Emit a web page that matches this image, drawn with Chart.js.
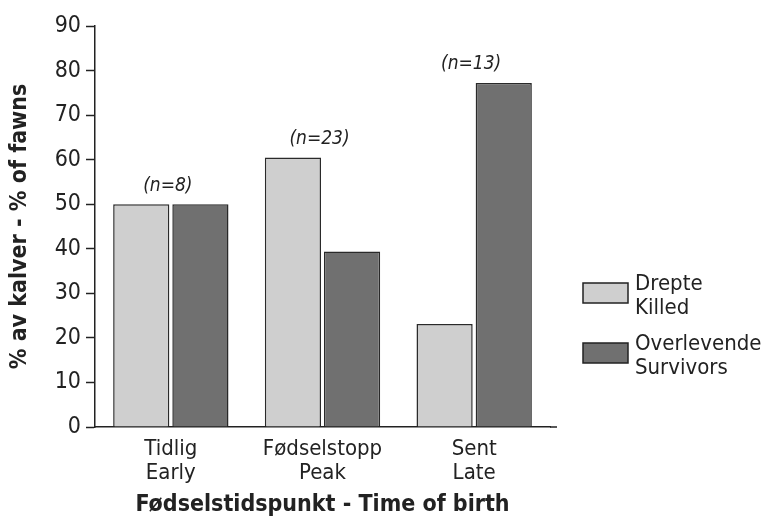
<!DOCTYPE html>
<html>
<head>
<meta charset="utf-8">
<script src="https://cdn.jsdelivr.net/npm/chart.js@4"></script>
<style>
  html, body { margin: 0; padding: 0; background: #fff; }
  #wrap { width: 768px; height: 527px; }
</style>
</head>
<body>
<div id="wrap"><canvas id="fawnChart" width="768" height="527"></canvas></div>
<script>
// Data
const categories = [['Tidlig', 'Early'], ['Fødselstopp', 'Peak'], ['Sent', 'Late']];
const sampleSizes = ['(n=8)', '(n=23)', '(n=13)'];
const killed = [50, 60.5, 23.1];
const survivors = [50, 39.4, 77.2];
const killedLabel = ['Drepte', 'Killed'];
const survivorsLabel = ['Overlevende', 'Survivors'];
const yTicks = [0, 10, 20, 30, 40, 50, 60, 70, 80, 90];

const FONT = "'DejaVu Sans Condensed', 'Open Sans', sans-serif";

// n-labels over each group
const sampleLabels = {
    id: 'sampleLabels',
    afterDatasetsDraw(chart) {
        const ctx = chart.ctx;
        const x = chart.scales.x, y = chart.scales.y;
        ctx.save();
        ctx.font = 'italic 19px ' + FONT;
        ctx.fillStyle = '#222';
        ctx.textAlign = 'center';
        ctx.textBaseline = 'bottom';
        sampleSizes.forEach((txt, i) => {
            const top = Math.max(killed[i], survivors[i]);
            ctx.fillText(txt, x.getPixelForValue(i) - 3, y.getPixelForValue(top) - 9);
        });
        ctx.restore();
    }
};

// legend on the right with two-line labels, plus the axis line running a bit past the bars
const sideLegend = {
    id: 'sideLegend',
    afterDraw(chart) {
        const ctx = chart.ctx;
        const area = chart.chartArea;
        ctx.save();
        ctx.strokeStyle = '#222';
        ctx.lineWidth = 1.5;
        ctx.beginPath();
        ctx.moveTo(area.right, area.bottom);
        ctx.lineTo(area.right + 7, area.bottom);
        ctx.stroke();

        const bx = area.right + 33;
        const rows = [283, 343];
        ctx.font = '22px ' + FONT;
        ctx.textBaseline = 'middle';
        ctx.textAlign = 'left';
        chart.data.datasets.forEach((ds, i) => {
            const by = rows[i];
            ctx.fillStyle = ds.backgroundColor;
            ctx.fillRect(bx, by, 45, 20);
            ctx.strokeStyle = '#222';
            ctx.lineWidth = 1.5;
            ctx.strokeRect(bx, by, 45, 20);
            ctx.fillStyle = '#222';
            ds.label.forEach((line, j) => {
                ctx.fillText(line, bx + 52, by + 1 + j * 24);
            });
        });
        ctx.restore();
    }
};

const ctx = document.getElementById('fawnChart').getContext('2d');
new Chart(ctx, {
    type: 'bar',
    data: {
        labels: categories,
        datasets: [{
            label: killedLabel,
            data: killed,
            backgroundColor: '#cfcfcf',
            borderColor: '#2a2a2a',
            borderWidth: 1.5,
            categoryPercentage: 0.78,
            barPercentage: 0.95
        }, {
            label: survivorsLabel,
            data: survivors,
            backgroundColor: '#707070',
            borderColor: '#2a2a2a',
            borderWidth: 1.5,
            categoryPercentage: 0.78,
            barPercentage: 0.95
        }]
    },
    options: {
        responsive: false,
        animation: false,
        layout: {
            padding: { left: 6, right: 218, top: 26, bottom: 8 }
        },
        plugins: {
            legend: { display: false },
            tooltip: { enabled: false }
        },
        scales: {
            x: {
                grid: { display: false },
                border: { color: '#222', width: 1.5 },
                afterFit(axis) {
                    axis.height = 92;
                },
                ticks: {
                    color: '#222',
                    font: { family: FONT, size: 22, lineHeight: 1.1 },
                    padding: 2,
                    maxRotation: 0
                },
                title: {
                    display: true,
                    text: 'Fødselstidspunkt - Time of birth',
                    color: '#222',
                    font: { family: FONT, size: 23, weight: 'bold' },
                    padding: { top: 4, bottom: 0 }
                }
            },
            y: {
                min: 0,
                max: 90,
                afterBuildTicks(axis) {
                    axis.ticks = yTicks.map(v => ({ value: v }));
                },
                afterFit(axis) {
                    axis.width = 89;
                },
                grid: {
                    drawOnChartArea: false,
                    drawTicks: true,
                    tickLength: 9,
                    tickWidth: 1.5,
                    tickColor: '#222'
                },
                border: { color: '#222', width: 1.5 },
                ticks: {
                    color: '#222',
                    font: { family: FONT, size: 23 },
                    padding: 5
                },
                title: {
                    display: true,
                    text: '% av kalver - % of fawns',
                    color: '#222',
                    font: { family: FONT, size: 23, weight: 'bold' },
                    padding: { top: 0, bottom: 0 }
                }
            }
        }
    },
    plugins: [sampleLabels, sideLegend]
});
</script>
</body>
</html>
